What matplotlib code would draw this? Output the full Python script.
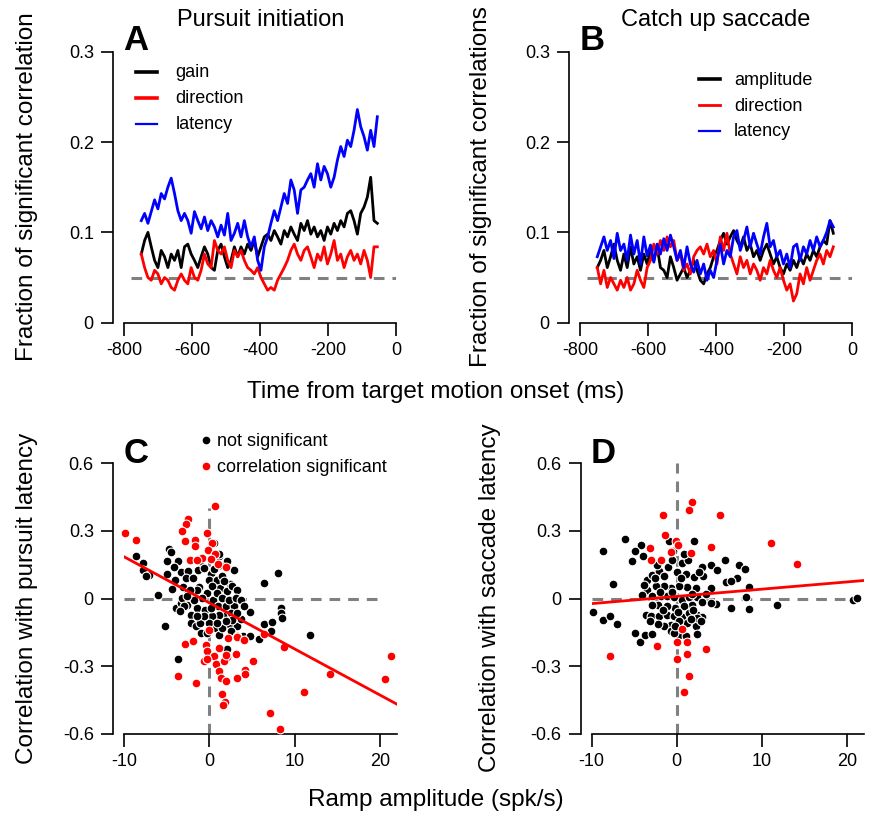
import numpy as np
import matplotlib
matplotlib.use("Agg")
import matplotlib.pyplot as plt
from matplotlib.lines import Line2D

plt.rcParams['font.family'] = ['Liberation Sans', 'DejaVu Sans']
plt.rcParams['axes.unicode_minus'] = False

W, H = 871, 816

# time from target motion onset (ms), one sample every ~10 ms
time_ms = np.linspace(-750, -55, 72)

# panel A - pursuit initiation
pursuit_gain = [
    0.076, 0.091, 0.100, 0.084, 0.069, 0.061, 0.080, 0.073, 0.061, 0.076,
    0.069, 0.080, 0.061, 0.084, 0.087, 0.076, 0.069, 0.061, 0.073, 0.084,
    0.076, 0.061, 0.058, 0.080, 0.087, 0.073, 0.061, 0.069, 0.084, 0.073,
    0.084, 0.076, 0.087, 0.080, 0.091, 0.073, 0.084, 0.095, 0.098, 0.091,
    0.102, 0.095, 0.087, 0.102, 0.095, 0.106, 0.098, 0.091, 0.110, 0.102,
    0.113, 0.098, 0.106, 0.095, 0.102, 0.091, 0.106, 0.098, 0.110, 0.102,
    0.113, 0.106, 0.121, 0.124, 0.113, 0.098, 0.121, 0.128, 0.139, 0.161,
    0.113, 0.110]
pursuit_direction = [
    0.076, 0.061, 0.050, 0.047, 0.058, 0.054, 0.043, 0.050, 0.047, 0.039,
    0.036, 0.047, 0.054, 0.047, 0.043, 0.061, 0.050, 0.047, 0.058, 0.076,
    0.065, 0.061, 0.091, 0.080, 0.076, 0.084, 0.069, 0.061, 0.080, 0.073,
    0.080, 0.069, 0.061, 0.058, 0.054, 0.061, 0.050, 0.043, 0.036, 0.039,
    0.036, 0.047, 0.054, 0.061, 0.069, 0.080, 0.087, 0.076, 0.069, 0.080,
    0.084, 0.073, 0.061, 0.076, 0.069, 0.084, 0.065, 0.076, 0.091, 0.069,
    0.076, 0.061, 0.073, 0.080, 0.069, 0.076, 0.065, 0.080, 0.069, 0.050,
    0.084, 0.084]
pursuit_latency = [
    0.113, 0.121, 0.110, 0.123, 0.136, 0.126, 0.143, 0.137, 0.150, 0.160,
    0.143, 0.124, 0.113, 0.121, 0.113, 0.099, 0.123, 0.113, 0.104, 0.117,
    0.102, 0.113, 0.106, 0.095, 0.108, 0.097, 0.121, 0.091, 0.099, 0.110,
    0.095, 0.113, 0.095, 0.084, 0.095, 0.069, 0.058, 0.084, 0.095, 0.110,
    0.124, 0.113, 0.128, 0.143, 0.132, 0.158, 0.147, 0.121, 0.147, 0.150,
    0.158, 0.165, 0.150, 0.176, 0.158, 0.173, 0.165, 0.150, 0.161, 0.180,
    0.195, 0.184, 0.202, 0.195, 0.213, 0.236, 0.217, 0.206, 0.191, 0.213,
    0.195, 0.228]

# panel B - catch up saccade
saccade_amplitude = [
    0.061, 0.069, 0.080, 0.061, 0.073, 0.087, 0.069, 0.058, 0.076, 0.061,
    0.084, 0.065, 0.073, 0.058, 0.076, 0.065, 0.080, 0.069, 0.084, 0.061,
    0.058, 0.050, 0.073, 0.061, 0.047, 0.054, 0.061, 0.050, 0.058, 0.069,
    0.058, 0.047, 0.043, 0.054, 0.061, 0.073, 0.080, 0.091, 0.099, 0.087,
    0.095, 0.102, 0.091, 0.084, 0.095, 0.080, 0.087, 0.073, 0.080, 0.069,
    0.080, 0.087, 0.076, 0.065, 0.073, 0.061, 0.054, 0.065, 0.058, 0.069,
    0.061, 0.073, 0.065, 0.076, 0.069, 0.080, 0.073, 0.084, 0.091, 0.087,
    0.113, 0.099]
saccade_direction = [
    0.061, 0.043, 0.058, 0.039, 0.050, 0.043, 0.036, 0.047, 0.039, 0.050,
    0.036, 0.043, 0.058, 0.047, 0.039, 0.061, 0.069, 0.087, 0.076, 0.091,
    0.080, 0.095, 0.084, 0.091, 0.069, 0.076, 0.058, 0.065, 0.054, 0.073,
    0.080, 0.084, 0.076, 0.087, 0.073, 0.080, 0.065, 0.095, 0.080, 0.099,
    0.076, 0.065, 0.054, 0.073, 0.061, 0.069, 0.054, 0.065, 0.058, 0.047,
    0.061, 0.054, 0.069, 0.058, 0.050, 0.061, 0.047, 0.036, 0.043, 0.024,
    0.032, 0.054, 0.043, 0.061, 0.047, 0.058, 0.069, 0.076, 0.065, 0.080,
    0.073, 0.084]
saccade_latency = [
    0.073, 0.084, 0.095, 0.080, 0.091, 0.071, 0.099, 0.080, 0.087, 0.069,
    0.097, 0.076, 0.091, 0.065, 0.095, 0.074, 0.086, 0.067, 0.087, 0.076,
    0.093, 0.080, 0.097, 0.084, 0.069, 0.080, 0.061, 0.084, 0.065, 0.056,
    0.069, 0.054, 0.065, 0.047, 0.058, 0.050, 0.069, 0.087, 0.065, 0.080,
    0.073, 0.095, 0.102, 0.080, 0.091, 0.106, 0.084, 0.099, 0.087, 0.076,
    0.095, 0.110, 0.084, 0.091, 0.073, 0.080, 0.065, 0.076, 0.061, 0.084,
    0.087, 0.069, 0.084, 0.076, 0.091, 0.080, 0.095, 0.084, 0.091, 0.100,
    0.113, 0.106]

chance_level = 0.05

# panel C - ramp amplitude vs correlation with pursuit latency
c_ns_x = [-8.6, -7.8, -7.8, -7.06, -7.4, -6.1, -5.2, -3.7, -4.7, -4.5, -5.0, -3.7, -5.0,
          -3.4, -2.5, -1.4, -2.8, -4.4, -3.1, -1.9, -1.2, -2.5, -3.9, -3.4, -1.45, -2.2,
          -2.2, -1.6, -0.9, -0.94, 0.12, 0.71, 1.29, 2.39, 2.08, 2.86, 2.08, 1.29, 1.1,
          0.51, -0.08, -0.35, 0.43, 0.98, 1.96, 2.86, 2.55, 1.61, 1.1, 0.31, 0.0, 0.71,
          2.27, 3.25, 3.65, 4.7, 3.96, 4.75, 5.8, 6.39, 7.37, 7.25, 8.35, 8.35, 8.55,
          8.04, 6.39, 11.8, 2.08, 0.51, 1.1, -1.06, -0.67, -1.45, -0.86, -0.47, -1.06,
          -0.27, 1.1, 1.49, 2.47, 3.25, -2.63, -3.2, -4.0, -4.2, -2.24, 0.9, 1.49, 1.76,
          2.67, 3.25, 0.31, 0.9, 1.49, 2.27, 3.06, 3.65, 4.04, 3.25, 2.67, 1.88, 0.9,
          0.12, -0.67, -1.45, -1.84, -2.63, -3.02, -3.41]
c_ns_y = [0.191, 0.158, 0.129, 0.107, 0.100, 0.018, -0.120, -0.268, 0.222, 0.205, 0.166,
          0.166, 0.110, 0.120, 0.124, 0.126, 0.090, 0.044, 0.052, 0.090, 0.052, 0.030,
          -0.041, -0.020, -0.041, -0.071, -0.107, -0.123, -0.080, -0.153, 0.111, 0.084,
          0.047, 0.065, 0.033, 0.129, 0.166, 0.147, 0.191, 0.132, 0.084, 0.025, -0.004,
          -0.034, -0.031, -0.034, -0.064, -0.079, -0.071, -0.079, -0.108, -0.130, -0.113,
          -0.123, -0.090, -0.059, -0.167, -0.167, -0.178, -0.111, -0.105, -0.145, -0.041,
          -0.064, -0.086, 0.114, 0.070, -0.161, -0.224, 0.247, 0.200, 0.166, 0.136, 0.040,
          0.003, -0.049, -0.108, -0.153, -0.160, -0.130, -0.145, -0.167, -0.027, 0.003,
          0.084, 0.140, 0.040, 0.084, 0.099, 0.077, 0.055, 0.040, 0.055, 0.025, 0.003,
          -0.004, 0.003, -0.004, -0.034, -0.064, -0.093, -0.101, -0.108, -0.041, -0.079,
          -0.079, -0.004, 0.010, -0.034, -0.056]
c_sig_x = [-9.9, -8.6, -2.55, -2.8, -3.2, -2.9, -1.65, -1.7, -2.3, 0.59, -0.35, 0.35, -0.12,
           0.7, -0.9, 0.16, 0.98, 1.9, -1.5, -0.04, 6.4, -2.9, -1.9, -0.43, -0.24, 1.06,
           2.2, 3.26, 4.1, 8.7, 0.55, -0.67, -0.27, 2.1, 3.06, 0.82, 1.76, 5.1, 1.1, 4.15,
           4.15, 3.26, 1.37, 1.96, -3.7, -1.57, 1.45, 1.8, 1.57, 7.1, 8.3, 11.1, 14.2,
           20.6, 21.3, 1.88]
c_sig_y = [0.290, 0.260, 0.354, 0.333, 0.300, 0.255, 0.258, 0.233, 0.173, 0.410, 0.289,
           0.247, 0.215, 0.196, 0.179, 0.176, 0.154, 0.141, 0.173, -0.139, -0.158, -0.203,
           -0.187, -0.207, -0.230, -0.220, -0.176, -0.169, -0.184, -0.216, -0.253, -0.278,
           -0.268, -0.260, -0.244, -0.290, -0.278, -0.277, -0.320, -0.316, -0.335, -0.353,
           -0.353, -0.364, -0.342, -0.372, -0.422, -0.459, -0.473, -0.508, -0.578, -0.416,
           -0.333, -0.357, -0.256, -0.249]
c_fit = [-0.0204, -0.019]  # slope, intercept

# panel D - ramp amplitude vs correlation with saccade latency
d_ns_x = [-6.12, -8.63, -4.24, -4.94, -3.96, -5.29, -7.45, -9.88, -8.67, -7.88, -6.98, -4.9,
          -4.31, -3.76, -2.86, 2.04, -0.9, 5.65, 7.33, 8.04, 7.14, 5.77, 6.35, 8.51, 8.2,
          6.43, 8.51, 11.76, 20.7, 21.2, 4.0, 4.78, 3.02, 4.63, 4.08, -3.45, -2.86, -2.08,
          -1.02, -0.51, 0.67, 1.33, 1.06, 2.04, 3.14, 2.24, 1.25, 0.27, -0.71, -1.49,
          -2.47, -3.45, -4.04, -2.86, -1.88, -1.1, -0.31, 0.67, 1.45, 2.43, 3.02, 1.84,
          0.86, -0.24, -1.18, -2.2, -2.86, -3.65, -3.06, -2.08, -1.1, -0.31, 0.67, 1.45,
          2.43, 3.02, 2.24, 1.25, 0.27, -0.71, -1.49, -2.2, -0.71, 0.27, 2.35, 1.06, -0.31,
          2.43, 4.0, -2.5, -1.5, 0.0, 0.5, 2.6, -3.8, -2.0, -0.5, 1.8, 3.5, -1.6, 0.2, 1.9,
          -3.2, -0.2, 1.7, 2.9, -0.4, 0.9, -2.3]
d_ns_y = [0.265, 0.210, 0.240, 0.210, 0.188, 0.169, 0.065, -0.061, -0.093, -0.079, -0.113,
          -0.153, -0.190, -0.160, -0.156, 0.255, 0.255, 0.173, 0.147, 0.132, 0.092, 0.073,
          0.077, 0.052, 0.007, -0.041, -0.046, -0.027, -0.004, 0.001, 0.147, 0.129, 0.141,
          -0.024, 0.047, 0.084, 0.107, 0.121, 0.141, 0.173, 0.156, 0.173, 0.111, 0.096,
          0.099, 0.047, 0.052, 0.055, 0.047, 0.055, 0.058, 0.040, 0.018, 0.010, 0.013,
          0.013, 0.007, -0.004, 0.007, 0.007, -0.016, -0.027, -0.034, -0.041, -0.031,
          -0.027, -0.027, -0.071, -0.079, -0.079, -0.071, -0.079, -0.081, -0.064, -0.071,
          -0.081, -0.120, -0.108, -0.101, -0.116, -0.123, -0.111, -0.145, -0.160, -0.156,
          -0.167, -0.153, -0.086, -0.019, 0.090, 0.100, 0.120, 0.090, 0.120, 0.060, 0.030,
          0.030, 0.020, 0.020, -0.050, -0.060, -0.050, -0.100, -0.120, -0.090, -0.100,
          0.210, 0.200, 0.150]
d_sig_x = [1.84, 1.45, -1.57, 5.06, -1.37, -0.08, 0.16, -3.14, -0.63, 1.73, 4.04, -3.06,
           -1.88, 11.06, 14.16, 0.59, 0.08, 1.25, -2.27, 3.49, 1.25, 0.0, -7.84, 1.41, 0.9]
d_sig_y = [0.428, 0.391, 0.369, 0.372, 0.280, 0.255, 0.237, 0.225, 0.206, 0.203, 0.228,
           0.170, 0.170, 0.246, 0.154, -0.133, -0.191, -0.191, -0.209, -0.224, -0.244,
           -0.268, -0.253, -0.345, -0.413]
d_fit = [0.0032, 0.010]  # slope, intercept

DASH = (0, (3.5, 2.6))
GREY = '#808080'


def fx(px):
    return px / W


def fy(py):
    return 1 - py / H


def make_axes(fig, left, top, right, bottom):
    """Axes placed from pixel edges, R style spines."""
    ax = fig.add_axes([fx(left), fy(bottom), (right - left) / W, (bottom - top) / H])
    for side in ['top', 'right']:
        ax.spines[side].set_visible(False)
    ax.spines['left'].set_position(('outward', 11 * 0.72))
    for side in ['left', 'bottom']:
        ax.spines[side].set_linewidth(1.2)
    ax.tick_params(length=9, width=1.2, labelsize=13, pad=5)
    ax.patch.set_alpha(0)
    return ax


def plot_time_panel(ax, series, colors):
    ax.plot([-780, 0], [chance_level, chance_level], color=GREY, lw=2.2, ls=DASH)
    for vals, col in zip(series, colors):
        ax.plot(time_ms, vals, color=col, lw=2.0)
    ax.set_xlim(-800, 0)
    ax.set_ylim(0, 0.3)
    ax.set_xticks([-800, -600, -400, -200, 0])
    ax.set_xticklabels(['-800', '-600', '-400', '-200', '0'])
    ax.set_yticks([0, 0.1, 0.2, 0.3])
    ax.set_yticklabels(['0', '0.1', '0.2', '0.3'])
    ax.spines['left'].set_bounds(0, 0.3)
    ax.spines['bottom'].set_bounds(-800, 0)


def plot_scatter_panel(ax, ns_x, ns_y, sig_x, sig_y, fit, vline_top):
    ax.plot([-10, 20], [0, 0], color=GREY, lw=2.2, ls=DASH, zorder=1)
    ax.plot([0, 0], [-0.6, vline_top], color=GREY, lw=2.2, ls=DASH, zorder=1)
    ax.scatter(ns_x, ns_y, s=40, c='black', edgecolors='white', linewidths=0.8,
               zorder=2, clip_on=False)
    ax.scatter(sig_x, sig_y, s=40, c='#ff0000', edgecolors='white', linewidths=0.8,
               zorder=3, clip_on=False)
    xs = np.array([-10, 22])
    ax.plot(xs, fit[0] * xs + fit[1], color='#ff0000', lw=2, zorder=4)
    ax.set_xlim(-10, 22)
    ax.set_ylim(-0.6, 0.6)
    ax.set_xticks([-10, 0, 10, 20])
    ax.set_xticklabels(['-10', '0', '10', '20'])
    ax.set_yticks([-0.6, -0.3, 0, 0.3, 0.6])
    ax.set_yticklabels(['-0.6', '-0.3', '0', '0.3', '0.6'])
    ax.spines['left'].set_bounds(-0.6, 0.6)
    ax.spines['bottom'].set_bounds(-10, 22)


def line_legend(fig, x0, x1, xt, rows, labels, colors, widths):
    for y, lab, col, lw in zip(rows, labels, colors, widths):
        fig.add_artist(Line2D([fx(x0), fx(x1)], [fy(y), fy(y)], color=col, lw=lw,
                              transform=fig.transFigure))
        fig.text(fx(xt), fy(y + 5.6), lab, fontsize=13, va='baseline', ha='left')


def main():
    fig = plt.figure(figsize=(W / 100, H / 100), dpi=100)

    ax_a = make_axes(fig, 124.3, 51.7, 396.0, 322.7)
    plot_time_panel(ax_a, [pursuit_gain, pursuit_direction, pursuit_latency],
                    ['black', '#ff0000', '#0000ff'])
    ax_b = make_axes(fig, 580.3, 51.7, 852.0, 322.7)
    plot_time_panel(ax_b, [saccade_amplitude, saccade_direction, saccade_latency],
                    ['black', '#ff0000', '#0000ff'])

    ax_c = make_axes(fig, 124.3, 463.3, 396.9, 734.0)
    plot_scatter_panel(ax_c, c_ns_x, c_ns_y, c_sig_x, c_sig_y, c_fit, 0.4)
    ax_d = make_axes(fig, 591.7, 463.3, 863.7, 734.0)
    plot_scatter_panel(ax_d, d_ns_x, d_ns_y, d_sig_x, d_sig_y, d_fit, 0.6)

    # titles and panel letters
    fig.text(fx(260.3), fy(20), 'Pursuit initiation', fontsize=17, ha='center', va='center')
    fig.text(fx(716), fy(20), 'Catch up saccade', fontsize=17, ha='center', va='center')
    for lx, ly, letter in [(123, 50, 'A'), (579.5, 50, 'B'), (124, 463, 'C'), (591, 463, 'D')]:
        fig.text(fx(lx), fy(ly), letter, fontsize=25, fontweight='bold', va='baseline')

    # axis labels
    fig.text(fx(27), fy(187), 'Fraction of significant correlation', fontsize=17.5,
             rotation=90, ha='center', va='center')
    fig.text(fx(481), fy(187), 'Fraction of significant correlations', fontsize=17.5,
             rotation=90, ha='center', va='center')
    fig.text(fx(27), fy(598), 'Correlation with pursuit latency', fontsize=17.5,
             rotation=90, ha='center', va='center')
    fig.text(fx(490), fy(598), 'Correlation with saccade latency', fontsize=17.5,
             rotation=90, ha='center', va='center')
    fig.text(fx(436), fy(392), 'Time from target motion onset (ms)', fontsize=17.5,
             ha='center', va='center')
    fig.text(fx(436), fy(800), 'Ramp amplitude (spk/s)', fontsize=17.5,
             ha='center', va='center')

    # legends
    line_legend(fig, 136, 157, 175.7, [71.7, 97.7, 123.7], ['gain', 'direction', 'latency'],
                ['black', '#ff0000', '#0000ff'], [2.6, 2.6, 1.6])
    line_legend(fig, 699, 720, 734, [79, 105, 130.5], ['amplitude', 'direction', 'latency'],
                ['black', '#ff0000', '#0000ff'], [2.6, 2.0, 1.6])
    for y, lab, col in [(440, 'not significant', 'black'),
                        (466, 'correlation significant', '#ff0000')]:
        fig.add_artist(Line2D([fx(206)], [fy(y)], marker='o', markersize=4.5, color=col,
                              lw=0, transform=fig.transFigure))
        fig.text(fx(216.7), fy(y + 5.8), lab, fontsize=13, va='baseline', ha='left')

    fig.savefig('out.png', dpi=100)


if __name__ == "__main__":
    main()
